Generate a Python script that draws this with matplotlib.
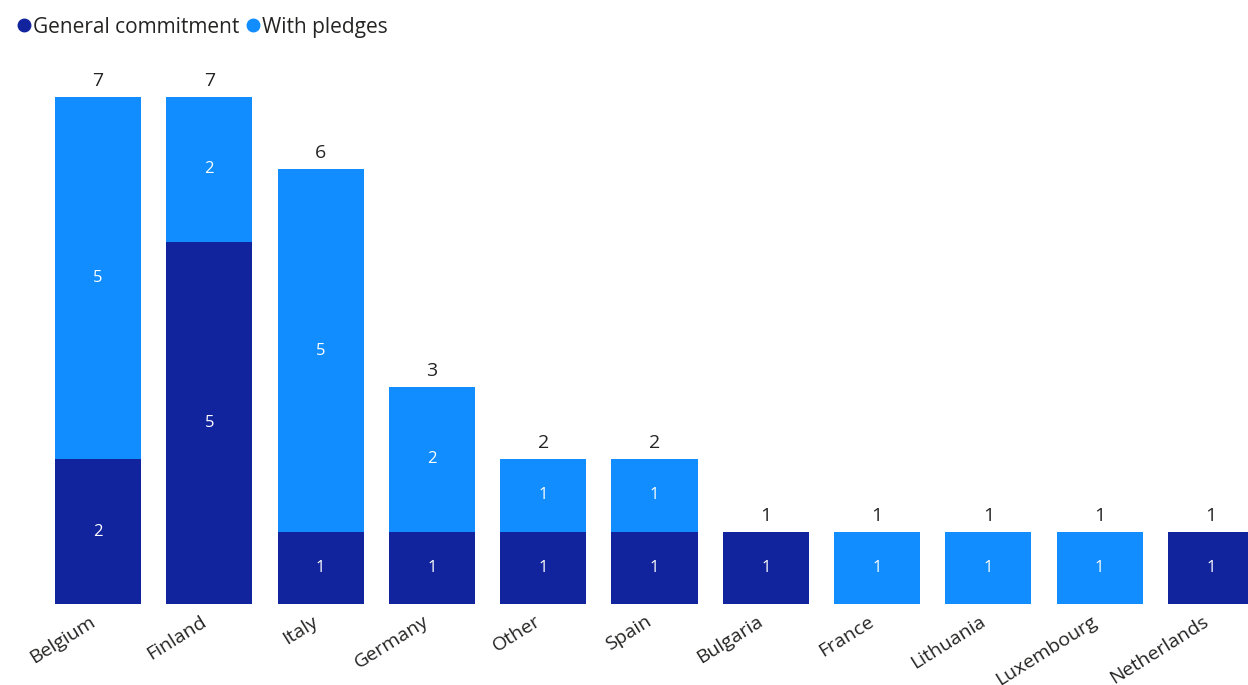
import matplotlib.pyplot as plt
from matplotlib.lines import Line2D
from matplotlib.transforms import ScaledTranslation

countries = ["Belgium", "Finland", "Italy", "Germany", "Other", "Spain",
             "Bulgaria", "France", "Lithuania", "Luxembourg", "Netherlands"]
general = [2, 5, 1, 1, 1, 1, 1, 0, 0, 0, 1]
pledges = [5, 2, 5, 2, 1, 1, 0, 1, 1, 1, 0]

DARK = "#12239E"
LIGHT = "#118DFF"

plt.rcParams["font.family"] = ["Open Sans", "DejaVu Sans"]

fig = plt.figure(figsize=(12.48, 6.85), dpi=100)
ax = fig.add_axes([0, 1 - 604 / 685, 1, (604 - 60.8) / 685])

x = list(range(len(countries)))
w = 0.773
ax.bar(x, general, width=w, color=DARK)
ax.bar(x, pledges, width=w, bottom=general, color=LIGHT)

for i in x:
    g, p = general[i], pledges[i]
    if g:
        ax.text(i, g / 2, str(g), color="white", ha="center", va="center", fontsize=12)
    if p:
        ax.text(i, g + p / 2, str(p), color="white", ha="center", va="center", fontsize=12)
    ax.annotate(str(g + p), (i, g + p), xytext=(0, 5), textcoords="offset points",
                ha="center", va="bottom", fontsize=14, color="#252423")

ax.set_xlim(-98 / 111.3, (1248 - 98) / 111.3)
ax.set_ylim(0, 7.5)
ax.set_xticks(x)
ax.set_xticklabels(countries, rotation=32, ha="right", rotation_mode="anchor",
                   fontsize=14, color="#252423")
ax.tick_params(axis="x", length=0, pad=6)
shift = ScaledTranslation(-9 / 100, 0, fig.dpi_scale_trans)
for lbl in ax.get_xticklabels():
    lbl.set_transform(lbl.get_transform() + shift)
ax.set_yticks([])
for s in ax.spines.values():
    s.set_visible(False)

handles = [Line2D([], [], marker="o", ls="", color=DARK, markersize=9),
           Line2D([], [], marker="o", ls="", color=LIGHT, markersize=9)]
fig.legend(handles, ["General commitment", "With pledges"], loc="upper left",
           bbox_to_anchor=(-0.004, 1.003), ncol=2, frameon=False, fontsize=15,
           handletextpad=-0.1, columnspacing=0.2, handlelength=1.0,
           labelcolor="#252423")

fig.savefig("out.png", dpi=100)
